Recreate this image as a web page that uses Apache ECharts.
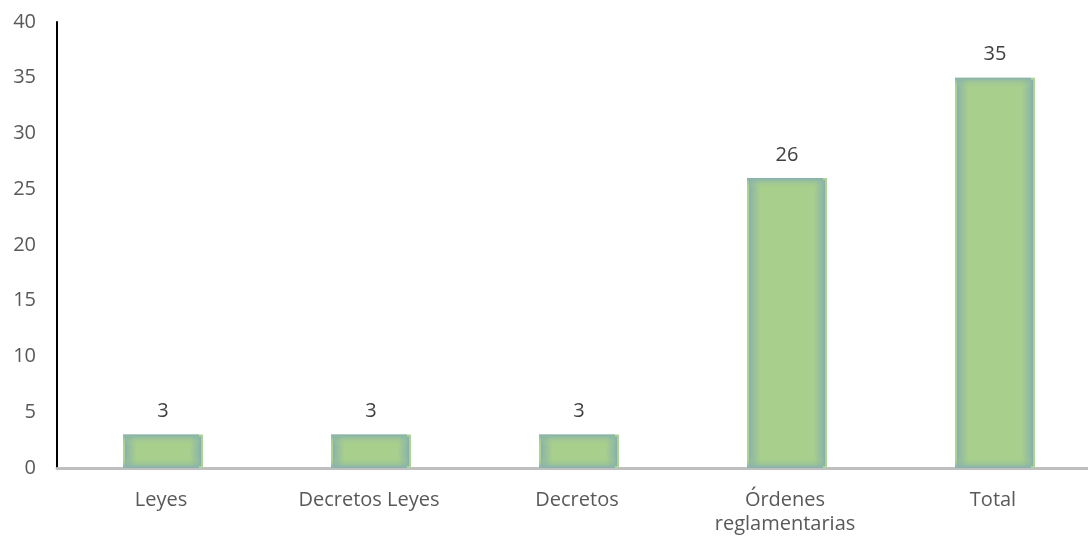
<!DOCTYPE html>
<html>
<head>
<meta charset="utf-8">
<script src="https://cdn.jsdelivr.net/npm/echarts@6/dist/echarts.min.js"></script>
<style>html,body{margin:0;padding:0;background:#fff}#c{width:1088px;height:540px}</style>
</head>
<body>
<div id="c"></div>
<script>
const categories = ['Leyes', 'Decretos Leyes', 'Decretos', 'Órdenes\nreglamentarias', 'Total'];
const values = [3, 3, 3, 26, 35];
const yTicks = [0, 5, 10, 15, 20, 25, 30, 35, 40];

const GREEN = '#a9cf8c';
const BLUE = '#80a9b2';
const plotH = 446, yMax = 40, edge = 11;

function hGrad() {
  return new echarts.graphic.LinearGradient(0, 0, 1, 0, [
    {offset: 0, color: BLUE},
    {offset: 0.06, color: '#90b9a4'},
    {offset: 0.17, color: GREEN},
    {offset: 0.83, color: GREEN},
    {offset: 0.94, color: '#90b9a4'},
    {offset: 1, color: BLUE}
  ]);
}
function vGrad(v) {
  const h = v / yMax * plotH;
  const f = Math.min(0.45, edge / h);
  return new echarts.graphic.LinearGradient(0, 0, 0, 1, [
    {offset: 0, color: 'rgba(128,169,178,0.9)'},
    {offset: f * 0.35, color: 'rgba(144,185,164,0.5)'},
    {offset: f, color: 'rgba(169,207,140,0)'},
    {offset: 1 - f, color: 'rgba(169,207,140,0)'},
    {offset: 1 - f * 0.35, color: 'rgba(144,185,164,0.5)'},
    {offset: 1, color: 'rgba(128,169,178,0.9)'}
  ]);
}

const FONT = 'Open Sans';
const chart = echarts.init(document.getElementById('c'));
chart.setOption({
  animation: false,
  grid: {left: 57, top: 22, right: -9, bottom: 72, outerBoundsMode: 'none', containLabel: false},
  xAxis: {
    type: 'category',
    data: categories,
    axisLine: {lineStyle: {color: '#bfbfbf', width: 3}},
    axisTick: {show: false},
    axisLabel: {color: '#595959', fontSize: 20, fontFamily: FONT, margin: 20, lineHeight: 24, interval: 0}
  },
  yAxis: {
    type: 'value',
    min: 0, max: 40, interval: 5,
    axisLine: {show: true, lineStyle: {color: '#000', width: 2}},
    axisTick: {show: false},
    splitLine: {show: false},
    axisLabel: {color: '#595959', fontSize: 20, fontFamily: FONT, margin: 21,
      formatter: v => yTicks.includes(v) ? String(v) : ''}
  },
  series: [
    {
      type: 'bar',
      data: values,
      barWidth: 80,
      itemStyle: {color: hGrad(), borderColor: '#aed493', borderWidth: 2},
      label: {show: true, position: 'top', distance: 13, color: '#404040', fontSize: 20, fontFamily: FONT},
      z: 2
    },
    {
      type: 'bar',
      data: values.map(v => ({value: v, itemStyle: {color: vGrad(v)}})),
      barWidth: 76,
      barGap: '-100%',
      silent: true,
      z: 3
    }
  ]
});
</script>
</body>
</html>
